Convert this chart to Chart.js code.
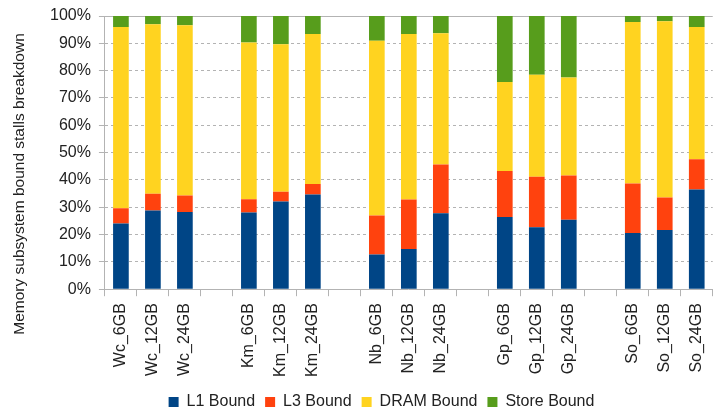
<!DOCTYPE html>
<html>
<head>
<meta charset="utf-8">
<script src="https://cdn.jsdelivr.net/npm/chart.js@4"></script>
<style>
  html, body { margin: 0; padding: 0; background: #fff; }
  #wrap { width: 723px; height: 414px; }
</style>
</head>
<body>
<div id="wrap"><canvas id="stalls_chart" width="723" height="414"></canvas></div>
<script>
// empty strings are the gaps between workload groups
const categories = ['Wc_6GB', 'Wc_12GB', 'Wc_24GB', '',
    'Km_6GB', 'Km_12GB', 'Km_24GB', '',
    'Nb_6GB', 'Nb_12GB', 'Nb_24GB', '',
    'Gp_6GB', 'Gp_12GB', 'Gp_24GB', '',
    'So_6GB', 'So_12GB', 'So_24GB']

const l1_bound    = [24.0, 28.8, 28.3, null, 28.1, 32.1, 34.7, null, 12.7, 14.7, 27.8, null, 26.4, 22.7, 25.4, null, 20.6, 21.7, 36.5]
const l3_bound    = [5.6, 6.1, 6.0, null, 4.8, 3.6, 3.8, null, 14.3, 18.1, 17.8, null, 16.9, 18.5, 16.2, null, 18.1, 11.9, 11.1]
const dram_bound  = [66.4, 62.1, 62.3, null, 57.4, 54.0, 54.9, null, 63.9, 60.6, 48.1, null, 32.5, 37.3, 35.9, null, 59.1, 64.5, 48.4]
const store_bound = [4.0, 3.0, 3.4, null, 9.7, 10.3, 6.6, null, 9.1, 6.6, 6.3, null, 24.2, 21.5, 22.5, null, 2.2, 1.9, 4.0]

const y_ticks = [0, 10, 20, 30, 40, 50, 60, 70, 80, 90, 100]
const y_title = 'Memory subsystem bound stalls breakdown'

Chart.defaults.font.family = '"Liberation Sans", Arial, sans-serif'
Chart.defaults.font.size = 16
Chart.defaults.color = '#222'

const stalls_chart = document.querySelector('#stalls_chart')

// y title sits lower than chart.js would centre it, so draw it by hand
const yTitlePlugin = {
    id: 'yTitle',
    afterDraw(chart) {
        const ctx = chart.ctx
        ctx.save()
        ctx.translate(20, 184)
        ctx.rotate(-Math.PI / 2)
        ctx.font = '15.5px "Liberation Sans", Arial, sans-serif'
        ctx.fillStyle = '#222'
        ctx.textAlign = 'center'
        ctx.textBaseline = 'middle'
        ctx.fillText(y_title, 0, 0)
        ctx.restore()
    }
}

const bar = (label, data, color) => ({
    label: label,
    data: data,
    backgroundColor: color,
    borderWidth: 0,
    barPercentage: 0.49,
    categoryPercentage: 1.0
})

const data_stalls = {
    labels: categories,
    datasets: [
        bar('L1 Bound', l1_bound, '#004586'),
        bar('L3 Bound', l3_bound, '#ff420e'),
        bar('DRAM Bound', dram_bound, '#ffd320'),
        bar('Store Bound', store_bound, '#579d1c')
    ]
}

const options_stalls = {
    responsive: false,
    animation: false,
    layout: {
        padding: { top: 6, right: 2, left: 42, bottom: -6 }
    },
    plugins: {
        legend: {
            position: 'bottom',
            labels: {
                boxWidth: 10,
                boxHeight: 10,
                padding: 10,
                color: '#222'
            }
        },
        tooltip: { enabled: false }
    },
    scales: {
        x: {
            stacked: true,
            grid: {
                drawOnChartArea: false,
                drawTicks: true,
                tickLength: 7,
                color: '#b3b3b3'
            },
            border: { color: '#b3b3b3' },
            ticks: {
                minRotation: 90,
                maxRotation: 90,
                autoSkip: false,
                padding: 7
            }
        },
        y: {
            stacked: true,
            min: 0,
            max: 100,
            afterBuildTicks: axis => {
                axis.ticks = y_ticks.map(v => ({ value: v }))
            },
            ticks: {
                callback: value => value + '%',
                padding: 8,
                font: { size: 16, lineHeight: 1.0 }
            },
            grid: {
                color: '#b3b3b3',
                tickLength: 6
            },
            border: {
                color: '#b3b3b3',
                dash: ctx => (ctx.tick && ctx.tick.value === 100) ? [] : [3, 3]
            }
        }
    }
}

new Chart(stalls_chart, {
    type: 'bar',
    data: data_stalls,
    options: options_stalls,
    plugins: [yTitlePlugin]
})
</script>
</body>
</html>
